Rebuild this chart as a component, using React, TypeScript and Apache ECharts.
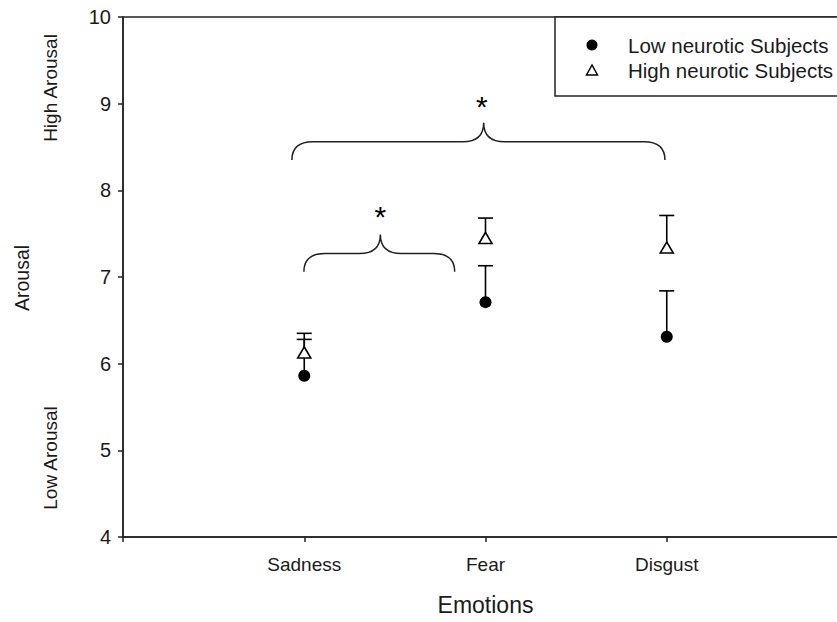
import React, { useEffect, useRef } from "react";
import * as echarts from "echarts";

// ---- data ----
const categories = ["Sadness", "Fear", "Disgust"];
const lowMean = [5.86, 6.71, 6.31];
const lowUpper = [6.28, 7.13, 6.84];
const highMean = [6.13, 7.45, 7.34];
const highUpper = [6.35, 7.68, 7.71];
const yTicks = [4, 10, 1]; // min, max, interval
const xRange = [0, 4];
// significance braces: [xStart, xEnd, xTip, yEnd, yFlat, yTip]
const braces = [
  [0.998, 1.83, 1.42, 7.06, 7.27, 7.49],
  [0.932, 2.99, 1.99, 8.35, 8.56, 8.78],
];
const stars = [
  [1.42, 7.77],
  [1.98, 9.04],
];
const legendLabels = ["Low neurotic Subjects", "High neurotic Subjects"];

const FONT = "Liberation Sans, Arial, sans-serif";
const INK = "#1a1a1a";

export default function App() {
  const ref = useRef<HTMLDivElement>(null);
  useEffect(() => {
    if (!ref.current) return;
    const chart = echarts.init(ref.current, null, { renderer: "svg" });
    const xs = categories.map((_, i) => i + 1);
    const errLow = xs.map((x, i) => [x, lowMean[i], lowUpper[i]]);
    const errHigh = xs.map((x, i) => [x, highMean[i], highUpper[i]]);

    const errRender = (params: any, api: any) => {
      const p0 = api.coord([api.value(0), api.value(1)]);
      const p1 = api.coord([api.value(0), api.value(2)]);
      const hw = 7.5;
      const st = { stroke: "#000", lineWidth: 1.6 };
      return {
        type: "group",
        children: [
          { type: "line", shape: { x1: p0[0], y1: p0[1], x2: p1[0], y2: p1[1] }, style: st },
          { type: "line", shape: { x1: p1[0] - hw, y1: p1[1], x2: p1[0] + hw, y2: p1[1] }, style: st },
        ],
      };
    };

    const option: any = {
      animation: false,
      backgroundColor: "#fff",
      grid: {
        left: 123,
        top: 17,
        width: 725,
        height: 520,
        show: true,
        borderColor: "#222",
        borderWidth: 1.5,
        outerBoundsMode: "none",
      },
      xAxis: {
        type: "value",
        min: xRange[0],
        max: xRange[1],
        interval: 1,
        splitLine: { show: false },
        axisLine: { lineStyle: { color: "#222", width: 1.5 } },
        axisTick: { show: true, length: 5, inside: false, lineStyle: { color: "#222", width: 1.5 } },
        axisLabel: {
          margin: 18,
          fontSize: 19,
          fontFamily: FONT,
          color: INK,
          formatter: (v: number) => categories[v - 1] ?? "",
          showMinLabel: true,
          showMaxLabel: true,
        },
        name: "Emotions",
        nameLocation: "middle",
        nameGap: 56,
        nameTextStyle: { fontSize: 23, fontFamily: FONT, color: INK },
      },
      yAxis: {
        type: "value",
        min: yTicks[0],
        max: yTicks[1],
        interval: yTicks[2],
        splitLine: { show: false },
        axisLine: { show: true, lineStyle: { color: "#222", width: 1.5 } },
        axisTick: { show: true, length: 5, lineStyle: { color: "#222", width: 1.5 } },
        axisLabel: { margin: 12, fontSize: 20, fontFamily: FONT, color: INK },
      },
      graphic: [
        {
          type: "text",
          x: 22,
          y: 278,
          rotation: Math.PI / 2,
          style: { text: "Arousal", font: `19.5px ${FONT}`, fill: INK, textAlign: "center", textVerticalAlign: "middle" },
        },
        {
          type: "text",
          x: 50,
          y: 88,
          rotation: Math.PI / 2,
          style: { text: "High Arousal", font: `19px ${FONT}`, fill: INK, textAlign: "center", textVerticalAlign: "middle" },
        },
        {
          type: "text",
          x: 50,
          y: 458,
          rotation: Math.PI / 2,
          style: { text: "Low Arousal", font: `19px ${FONT}`, fill: INK, textAlign: "center", textVerticalAlign: "middle" },
        },
        {
          type: "rect",
          shape: { x: 555, y: 17, width: 320, height: 79 },
          style: { fill: "#fff", stroke: "#222", lineWidth: 1.5 },
          z: 10,
        },
        {
          type: "circle",
          shape: { cx: 592, cy: 45, r: 5.5 },
          style: { fill: "#000" },
          z: 11,
        },
        {
          type: "polygon",
          shape: { points: [[592, 65], [586.5, 75], [597.5, 75]] },
          style: { fill: "#fff", stroke: "#000", lineWidth: 1.5 },
          z: 11,
        },
        {
          type: "text",
          x: 628,
          y: 45,
          style: { text: legendLabels[0], font: `20.5px ${FONT}`, fill: INK, textVerticalAlign: "middle" },
          z: 11,
        },
        {
          type: "text",
          x: 628,
          y: 70,
          style: { text: legendLabels[1], font: `20.5px ${FONT}`, fill: INK, textVerticalAlign: "middle" },
          z: 11,
        },
      ],
      series: [
        {
          type: "custom",
          name: "braces",
          data: braces,
          clip: false,
          z: 1,
          renderItem: (params: any, api: any) => {
            const a = api.coord([api.value(0), api.value(3)]);
            const b = api.coord([api.value(1), api.value(3)]);
            const t = api.coord([api.value(2), api.value(5)]);
            const f = api.coord([api.value(2), api.value(4)]);
            const yF = f[1];
            const r = 21;
            const d =
              `M ${a[0]} ${a[1]} Q ${a[0]} ${yF} ${a[0] + r} ${yF} ` +
              `L ${t[0] - r} ${yF} Q ${t[0]} ${yF} ${t[0]} ${t[1]} ` +
              `Q ${t[0]} ${yF} ${t[0] + r} ${yF} ` +
              `L ${b[0] - r} ${yF} Q ${b[0]} ${yF} ${b[0]} ${b[1]}`;
            return {
              type: "path",
              shape: { pathData: d },
              style: { fill: "none", stroke: "#222", lineWidth: 1.5 },
            };
          },
        },
        {
          type: "custom",
          name: "stars",
          data: stars,
          clip: false,
          z: 2,
          renderItem: (params: any, api: any) => {
            const p = api.coord([api.value(0), api.value(1)]);
            return {
              type: "text",
              x: p[0],
              y: p[1] + 6,
              style: {
                text: "*",
                font: `30px ${FONT}`,
                fill: "#000",
                textAlign: "center",
                textVerticalAlign: "middle",
              },
            };
          },
        },
        { type: "custom", name: "errLow", data: errLow, renderItem: errRender, z: 2 },
        { type: "custom", name: "errHigh", data: errHigh, renderItem: errRender, z: 2 },
        {
          type: "scatter",
          name: legendLabels[0],
          data: xs.map((x, i) => [x, lowMean[i]]),
          symbol: "circle",
          symbolSize: 12,
          itemStyle: { color: "#000", opacity: 1 },
          z: 3,
        },
        {
          type: "scatter",
          name: legendLabels[1],
          data: xs.map((x, i) => [x, highMean[i]]),
          symbol: "triangle",
          symbolSize: [13, 11],
          itemStyle: { color: "#fff", borderColor: "#000", borderWidth: 1.6, opacity: 1 },
          z: 4,
        },
      ],
    };
    chart.setOption(option);
    return () => chart.dispose();
  }, []);
  return (
    <div
      ref={ref}
      style={{ position: "absolute", left: 0, top: 0, width: 837, height: 622, overflow: "hidden", background: "#fff" }}
    />
  );
}
